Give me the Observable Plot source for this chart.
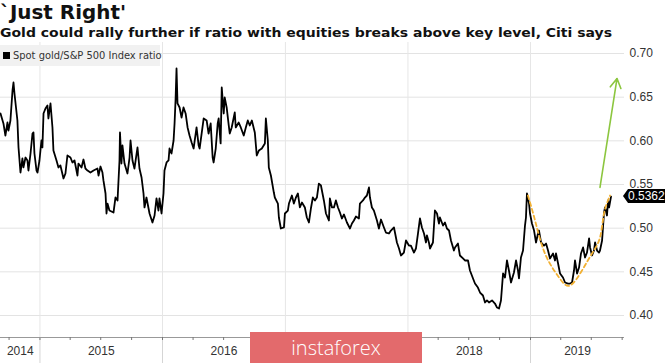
<!DOCTYPE html>
<html><head><meta charset="utf-8">
<script src="https://cdn.jsdelivr.net/npm/d3@7"></script>
<script src="https://cdn.jsdelivr.net/npm/@observablehq/plot@0.6"></script>
<style>
body{margin:0;background:#fff;width:665px;height:363px;overflow:hidden;position:relative;font-family:"Liberation Sans",Arial,sans-serif}
#title{position:absolute;left:0px;top:0px;font:bold 20px/24px "DejaVu Sans",sans-serif;white-space:nowrap;color:#111;transform-origin:0 0}
#subtitle{position:absolute;left:0px;top:25px;font:bold 12.5px/16px "DejaVu Sans",sans-serif;white-space:nowrap;color:#111;transform-origin:0 0}
#chart{position:absolute;left:0;top:42px}
#legend{position:absolute;left:0;top:45px;width:160px;height:21px;background:#f1f1f1;font:11px/21px "Liberation Sans Narrow","DejaVu Sans Condensed",sans-serif;color:#333;white-space:nowrap}
#legend i{display:inline-block;width:7px;height:7px;background:#000;margin:0 3px 0 3px;vertical-align:0px}
#wm{position:absolute;left:250px;top:332px;width:172px;height:31px;background:#e36a6c;color:#fff;font:300 20px/31px "Open Sans",sans-serif;text-align:center}
</style></head>
<body>
<div id="title">`Just Right'</div>
<div id="subtitle">Gold could rally further if ratio with equities breaks above key level, Citi says</div>
<div id="chart"></div>
<div id="legend"><i></i><span id="legtxt">Spot gold/S&amp;P 500 Index ratio</span></div>
<div id="wm">instaforex</div>
<script>
// Spot gold / S&P 500 ratio, dates as decimal years
const years = [
2014.678,2014.702,2014.718,2014.735,2014.743,2014.759,2014.776,2014.784,2014.792,2014.816,
2014.825,2014.841,2014.857,2014.865,2014.882,2014.898,2014.906,2014.923,2014.939,2014.947,
2014.955,2014.972,2014.980,2014.996,2015.012,2015.020,2015.029,2015.045,2015.061,2015.069,
2015.086,2015.102,2015.110,2015.135,2015.151,2015.167,2015.192,2015.208,2015.224,2015.249,
2015.265,2015.282,2015.306,2015.314,2015.339,2015.355,2015.371,2015.388,2015.412,2015.437,
2015.469,2015.478,2015.494,2015.510,2015.518,2015.535,2015.543,2015.551,2015.567,2015.600,
2015.616,2015.633,2015.649,2015.653,2015.665,2015.673,2015.690,2015.714,2015.731,2015.739,
2015.755,2015.771,2015.796,2015.812,2015.829,2015.845,2015.853,2015.869,2015.894,2015.918,
2015.935,2015.951,2015.967,2015.975,2015.992,2016.008,2016.016,2016.033,2016.049,2016.057,
2016.073,2016.090,2016.098,2016.106,2016.114,2016.122,2016.139,2016.155,2016.171,2016.188,
2016.204,2016.220,2016.237,2016.253,2016.277,2016.294,2016.302,2016.335,2016.359,2016.375,
2016.392,2016.408,2016.416,2016.433,2016.449,2016.457,2016.473,2016.482,2016.498,2016.506,
2016.522,2016.539,2016.547,2016.563,2016.588,2016.596,2016.620,2016.637,2016.661,2016.678,
2016.694,2016.710,2016.727,2016.751,2016.767,2016.784,2016.808,2016.833,2016.841,2016.857,
2016.865,2016.882,2016.906,2016.914,2016.939,2016.947,2016.963,2016.988,2016.996,2017.020,
2017.029,2017.053,2017.069,2017.086,2017.102,2017.118,2017.135,2017.159,2017.175,2017.192,
2017.208,2017.224,2017.241,2017.257,2017.273,2017.290,2017.314,2017.331,2017.355,2017.363,
2017.380,2017.396,2017.412,2017.429,2017.445,2017.461,2017.478,2017.502,2017.527,2017.543,
2017.559,2017.576,2017.600,2017.608,2017.633,2017.649,2017.665,2017.682,2017.690,2017.706,
2017.722,2017.747,2017.763,2017.780,2017.804,2017.820,2017.845,2017.861,2017.886,2017.894,
2017.910,2017.927,2017.943,2017.967,2017.984,2018.008,2018.024,2018.049,2018.065,2018.082,
2018.098,2018.114,2018.131,2018.147,2018.155,2018.171,2018.180,2018.204,2018.220,2018.237,
2018.253,2018.261,2018.286,2018.302,2018.318,2018.335,2018.351,2018.375,2018.384,2018.408,
2018.424,2018.449,2018.465,2018.490,2018.506,2018.531,2018.547,2018.571,2018.588,2018.612,
2018.629,2018.645,2018.661,2018.686,2018.710,2018.727,2018.743,2018.759,2018.776,2018.792,
2018.808,2018.824,2018.841,2018.865,2018.882,2018.898,2018.906,2018.922,2018.939,2018.955,
2018.963,2018.971,2018.988,2018.996,2019.012,2019.029,2019.045,2019.061,2019.069,2019.086,
2019.110,2019.127,2019.143,2019.159,2019.184,2019.200,2019.208,2019.225,2019.241,2019.265,
2019.282,2019.306,2019.322,2019.339,2019.355,2019.363,2019.380,2019.396,2019.412,2019.429,
2019.445,2019.461,2019.478,2019.486,2019.502,2019.518,2019.527,2019.543,2019.559,2019.567,
2019.584,2019.600,2019.608,2019.624,2019.633,2019.641,2019.657
];
const ratio = [
0.6313,0.6199,0.6061,0.6210,0.6118,0.6233,0.6577,0.6668,0.6542,0.6233,
0.5924,0.5637,0.5798,0.5695,0.5809,0.5775,0.5660,0.5855,0.6084,0.6096,
0.5855,0.5660,0.5637,0.5775,0.6004,0.5924,0.6313,0.6370,0.6405,0.6256,
0.6428,0.6153,0.5889,0.5775,0.5695,0.5718,0.5569,0.5626,0.5832,0.5809,
0.5752,0.5775,0.5603,0.5740,0.5695,0.5786,0.5683,0.5660,0.5637,0.5660,
0.5683,0.5603,0.5706,0.5637,0.5546,0.5397,0.5168,0.5282,0.5202,0.5179,
0.5351,0.5317,0.5775,0.6096,0.5740,0.5947,0.5740,0.5626,0.5809,0.6004,
0.5775,0.5683,0.5924,0.5683,0.5580,0.5397,0.5237,0.5351,0.5168,0.5065,
0.5145,0.5340,0.5202,0.5340,0.5168,0.5397,0.5660,0.5752,0.5775,0.5912,
0.5855,0.6004,0.6199,0.6462,0.6828,0.6428,0.6382,0.6267,0.6382,0.6313,
0.6153,0.6061,0.5981,0.5912,0.6153,0.5947,0.5912,0.6256,0.6233,0.6084,
0.6199,0.5809,0.5752,0.5912,0.6199,0.6256,0.5970,0.6611,0.6313,0.6496,
0.6382,0.6176,0.6084,0.6153,0.6325,0.6153,0.6210,0.6153,0.6061,0.6153,
0.6233,0.6176,0.6233,0.6096,0.5832,0.5889,0.5912,0.5970,0.6256,0.6004,
0.5695,0.5603,0.5408,0.5351,0.5282,0.5122,0.4996,0.5008,0.5168,0.5202,
0.5282,0.5374,0.5282,0.5351,0.5397,0.5237,0.5294,0.5237,0.5122,0.5065,
0.5225,0.5351,0.5317,0.5351,0.5511,0.5489,0.5317,0.5168,0.5088,0.5340,
0.5237,0.5237,0.5317,0.5237,0.5179,0.5111,0.5156,0.5065,0.4996,0.5053,
0.5088,0.5134,0.5111,0.5282,0.5317,0.5351,0.5374,0.5466,0.5351,0.5237,
0.5202,0.5088,0.4996,0.5099,0.5008,0.4950,0.4939,0.4973,0.5008,0.4950,
0.4836,0.4767,0.4687,0.4721,0.4859,0.4801,0.4801,0.4721,0.4767,0.4939,
0.5111,0.5008,0.4939,0.4836,0.4916,0.4836,0.4767,0.4836,0.5202,0.5168,
0.5053,0.5122,0.5030,0.5065,0.4996,0.4973,0.4859,0.4744,0.4779,0.4824,
0.4687,0.4653,0.4630,0.4630,0.4515,0.4424,0.4366,0.4320,0.4263,0.4229,
0.4149,0.4172,0.4149,0.4172,0.4137,0.4091,0.4080,0.4172,0.4481,0.4435,
0.4630,0.4515,0.4378,0.4492,0.4630,0.4515,0.4424,0.4664,0.4744,0.5030,
0.5122,0.5397,0.5282,0.5168,0.5053,0.4973,0.4836,0.4939,0.4973,0.4836,
0.4801,0.4824,0.4744,0.4653,0.4710,0.4630,0.4710,0.4595,0.4481,0.4435,
0.4378,0.4366,0.4366,0.4378,0.4515,0.4630,0.4481,0.4549,0.4710,0.4779,
0.4664,0.4721,0.4882,0.4779,0.4687,0.4744,0.4836,0.4744,0.4721,0.4744,
0.4859,0.5179,0.5237,0.5145,0.5317,0.5237,0.5362
];
// Citi "cup" annotation (orange dashed)
const cupYears = [2018.979,2019.037,2019.118,2019.233,2019.322,2019.420,2019.502,2019.567,2019.600,2019.649];
const cupRatio = [0.5374,0.5088,0.4710,0.4435,0.4343,0.4515,0.4710,0.4893,0.5168,0.5374];
// Green arrow annotation
const arrowFrom = [2019.567, 0.5466];
const arrowTo = [2019.706, 0.6714];
// Axis ticks
const yTicks = [0.40,0.45,0.50,0.55,0.60,0.65,0.70];
const yearLabels = [2014,2015,2016,2017,2018,2019];
const xStart = 2014.678, xEnd = 2019.767;
const yMin = 0.3748, yMax = 0.7126;

const toDate = y => { const yr = Math.floor(y); const s = Date.UTC(yr,0,1), e = Date.UTC(yr+1,0,1); return new Date(s + (y-yr)*(e-s)); };
const series = years.map((y,i)=>({date: toDate(y), value: ratio[i]}));
const cup = cupYears.map((y,i)=>({date: toDate(y), value: cupRatio[i]}));
const arrows = [{x1: toDate(arrowFrom[0]), y1: arrowFrom[1], x2: toDate(arrowTo[0]), y2: arrowTo[1]}];
const yearStarts = yearLabels.slice(1).map(y => new Date(Date.UTC(y,0,1)));
const quarters = [];
yearLabels.forEach(y => [0,3,6,9].forEach(m => { const d = new Date(Date.UTC(y,m,1)); if (d >= toDate(xStart) && d <= toDate(xEnd)) quarters.push(d); }));
const yearMids = yearLabels.map(y => { const a = Math.max(y, xStart), b = Math.min(y+1, xEnd); return toDate((a+b)/2); });

const chart = Plot.plot({
  width: 665, height: 321,
  marginLeft: 0, marginRight: 41, marginTop: 0, marginBottom: 26,
  style: {fontFamily: "Liberation Sans, Arial, sans-serif", fontSize: "12px", color: "#333", background: "transparent", overflow: "visible"},
  x: {type: "utc", domain: [toDate(xStart), toDate(xEnd)]},
  y: {domain: [yMin, yMax]},
  marks: [
    Plot.gridY(yTicks, {stroke: "#e3e3e3", strokeOpacity: 1}),
    Plot.gridX(yearStarts, {stroke: "#e6e6e6", strokeOpacity: 1}),
    Plot.axisY(yTicks, {anchor: "right", tickSize: 0, tickPadding: 5, tickFormat: d3.format(".2f"), fill: "#333", fontSize: 12, label: null}),
    Plot.ruleY([yMin], {stroke: "#999"}),
    Plot.axisX(yearStarts, {anchor: "bottom", tickSize: 26, tickFormat: () => "", stroke: "#d5d5d5", label: null}),
    Plot.axisX(quarters, {anchor: "bottom", tickSize: 3, tickFormat: () => "", stroke: "#777", label: null}),
    Plot.axisX(yearMids, {anchor: "bottom", tickSize: 0, tickPadding: 9, tickFormat: d3.utcFormat("%Y"), fill: "#333", fontSize: 12, label: null}),
    Plot.line(series, {x: "date", y: "value", stroke: "#000", strokeWidth: 1.8}),
    Plot.line(cup, {x: "date", y: "value", stroke: "#f2b134", strokeWidth: 1.8, strokeDasharray: "4,3", curve: "natural"}),
    Plot.arrow(arrows, {x1: "x1", y1: "y1", x2: "x2", y2: "y2", stroke: "#8cc63f", strokeWidth: 1.6, headLength: 10})
  ]
});
document.getElementById("chart").append(chart);

// end-value label box
const sx = chart.scale("x"), sy = chart.scale("y");
const last = ratio[ratio.length-1];
const ly = sy.apply(last), lx = sx.apply(toDate(xEnd));
const g = d3.select(chart).append("g");
g.append("path").attr("d", `M${lx-1},${ly} L${lx+4},${ly-7} L665,${ly-7} L665,${ly+7} L${lx+4},${ly+7} Z`).attr("fill", "#000");
g.append("text").attr("x", lx+4).attr("y", ly).attr("dy", "0.36em").attr("text-anchor", "start").attr("fill", "#fff").attr("font-size", 12).text(d3.format(".4f")(last));

// fit headings to reference widths
function fit(id, w){ const el = document.getElementById(id); const r = el.getBoundingClientRect().width; el.style.transform = `scaleX(${w/r})`; }
fit("title", 126); fit("subtitle", 612); fit("legtxt", 141);
</script>
</body></html>
